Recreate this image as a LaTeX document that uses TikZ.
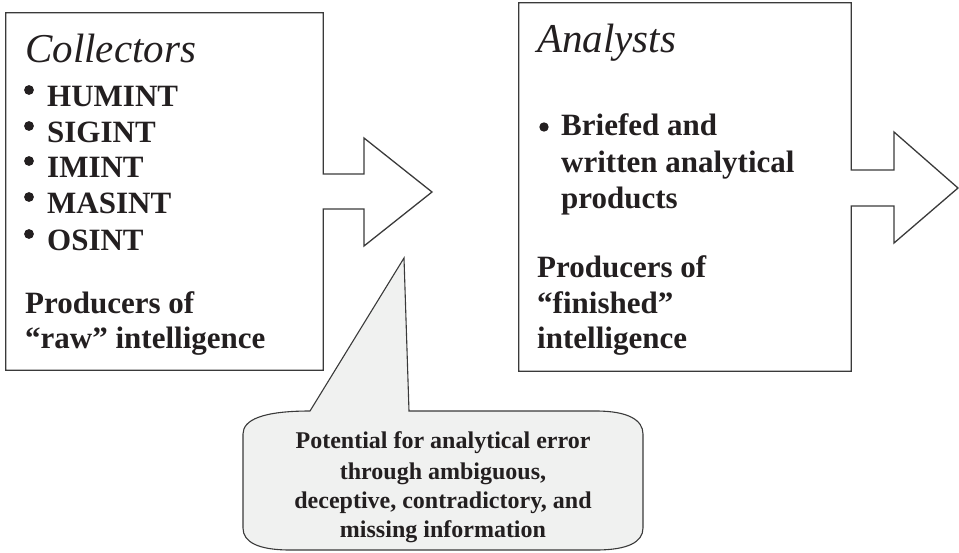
\documentclass[tikz,border=0pt]{standalone}
\usepackage{fontspec}
\setmainfont{Liberation Serif}
\definecolor{ink}{HTML}{231F20}
\definecolor{edge}{HTML}{3A3A3A}
\definecolor{bubble}{HTML}{F0F1F0}
\begin{document}
\begin{tikzpicture}[x=1pt,y=-1pt,
  body/.style={font=\fontsize{31}{35}\selectfont\bfseries, text=ink, inner sep=0pt, anchor=base west},
  title/.style={font=\fontsize{41}{46}\selectfont\itshape, text=ink, inner sep=0pt, anchor=base west},
  note/.style={font=\fontsize{24}{28}\selectfont\bfseries, text=ink, inner sep=0pt, anchor=base},
  frame/.style={draw=edge, line width=1.3pt, line join=miter},
  dot/.style={fill=ink},
  panel/.style={draw=none, inner sep=0pt}]
\useasboundingbox (0,0) rectangle (959,552);

% boxes (outline drawn with the arrows)
\node[panel, minimum width=317pt, minimum height=357pt] (col) at (164.5,191.5) {};
\node[panel, minimum width=332pt, minimum height=368pt] (ana) at (685,187) {};

% box 1 + arrow 1
\coordinate (t1) at (432,192);
\draw[frame] (col.north east |- 0,174) -- (364,174) -- (364,138) -- (t1) -- (364,246) -- (364,209) -- (col.north east |- 0,209)
  -- (col.south east) -- (col.south west) -- (col.north west) -- (col.north east) -- cycle;
% box 2 + arrow 2
\coordinate (t2) at (958,188);
\draw[frame] (ana.north east |- 0,170) -- (894,170) -- (894,132) -- (t2) -- (894,243) -- (894,206) -- (ana.north east |- 0,206)
  -- (ana.south east) -- (ana.south west) -- (ana.north west) -- (ana.north east) -- cycle;

% callout
\coordinate (tip) at (404,258);
\draw[frame, fill=bubble, line width=1.1pt] (310,411) -- (tip) -- (409,411) -- (596,411)
  .. controls (628,411) and (643,420) .. (643,434) -- (643,528)
  .. controls (643,542) and (628,550) .. (596,550) -- (290,550)
  .. controls (258,550) and (243,542) .. (243,528) -- (243,434)
  .. controls (243,420) and (262,411) .. cycle;

% Collectors text
\node[title] (ct) at (25,62) {Collectors};
\node[body] (c1) at (47,106) {HUMINT};
\node[body] (c2) at (47,142) {SIGINT};
\node[body] (c3) at (47,177) {IMINT};
\node[body] (c4) at (47,213) {MASINT};
\node[body] (c5) at (47,250) {OSINT};
\foreach \n in {c1,c2,c3,c4,c5}
  \fill[dot] ([shift={(-18,-16)}]\n.base west) circle (4.9);
\node[body] (c6) at (25,313) {Producers of};
\node[body] (c7) at (25,348) {“raw” intelligence};

% Analysts text
\node[title] (at) at (537,52) {Analysts};
\node[body] (a1) at (561,135) {Briefed and};
\fill[dot] ([shift={(-17,-8)}]a1.base west) circle (4.7);
\node[body] (a2) at (561,172) {written analytical};
\node[body] (a3) at (561,208) {products};
\node[body] (a4) at (537,277) {Producers of};
\node[body] (a5) at (537,313) {“finished”};
\node[body] (a6) at (537,348) {intelligence};

% callout text
\node[note] (n1) at (443,448) {Potential for analytical error};
\node[note] (n2) at (443,479) {through ambiguous,};
\node[note] (n3) at (443,508) {deceptive, contradictory, and};
\node[note] (n4) at (443,537) {missing information};
\end{tikzpicture}
\end{document}
